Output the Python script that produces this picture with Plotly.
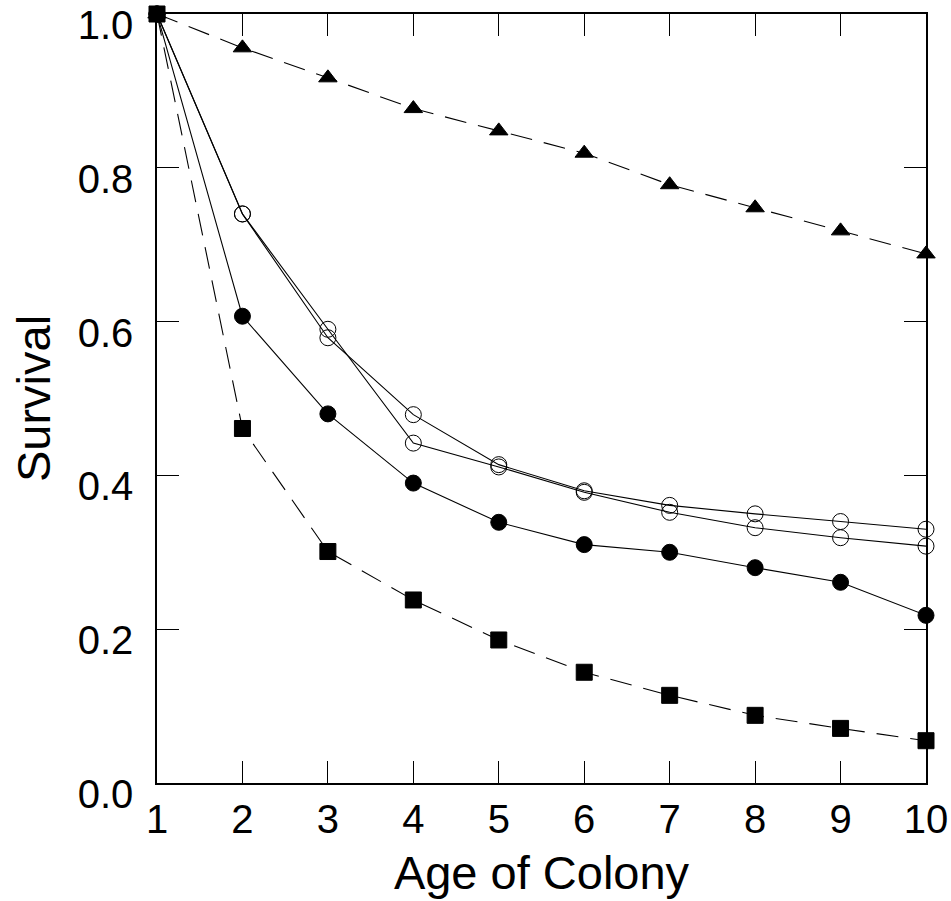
import plotly.graph_objects as go

age = list(range(1, 11))
tick_vals_x = list(range(1, 11))
tick_vals_y = [0.0, 0.2, 0.4, 0.6, 0.8, 1.0]
tick_text_y = ["0.0", "0.2", "0.4", "0.6", "0.8", "1.0"]

triangles = [1.0, 0.956, 0.917, 0.877, 0.848, 0.819, 0.778, 0.748, 0.718, 0.688]
open_a = [1.0, 0.740, 0.590, 0.442, 0.411, 0.378, 0.352, 0.332, 0.319, 0.308]
open_b = [1.0, 0.740, 0.579, 0.479, 0.414, 0.380, 0.361, 0.350, 0.340, 0.330]
filled = [1.0, 0.607, 0.480, 0.390, 0.339, 0.310, 0.300, 0.280, 0.261, 0.218]
squares = [1.0, 0.461, 0.301, 0.238, 0.186, 0.144, 0.114, 0.088, 0.071, 0.055]

fig = go.Figure()

def add(y, symbol, dash, size, lw=1.1):
    fig.add_trace(go.Scatter(
        x=age, y=y, mode="lines+markers", cliponaxis=False,
        line=dict(color="black", width=lw, dash=dash),
        marker=dict(symbol=symbol, size=size, color="black",
                    line=dict(color="black", width=1)),
        showlegend=False,
    ))

add(triangles, "triangle-up", "22px,12px", 16)
add(open_a, "circle-open", "solid", 16)
add(open_b, "circle-open", "solid", 16)
add(filled, "circle", "solid", 16)
add(squares, "square", "22px,12px", 16)

font = "Liberation Sans, Arial, Helvetica, sans-serif"

fig.update_layout(
    width=951, height=901,
    margin=dict(l=157, r=25, t=14, b=118),
    paper_bgcolor="white", plot_bgcolor="white",
    font=dict(family=font, color="black"),
)
fig.update_xaxes(
    range=[1, 10], tickvals=tick_vals_x, ticks="inside", ticklen=22, tickwidth=1,
    tickcolor="black", showline=True, linecolor="black", linewidth=1.5,
    mirror="allticks", showgrid=False, zeroline=False, automargin=False,
    tickfont=dict(size=40), ticklabelstandoff=0, ticklabeloverflow="allow",
    title=dict(text="Age of Colony", font=dict(size=47), standoff=16),
)
fig.update_yaxes(
    range=[0, 1], tickvals=tick_vals_y, ticktext=tick_text_y, ticks="inside",
    ticklen=22, tickwidth=1, tickcolor="black", showline=True, linecolor="black",
    linewidth=1.5, mirror="allticks", showgrid=False, zeroline=False, automargin=False,
    tickfont=dict(size=40), ticklabelstandoff=14, ticklabelshift=11,
    ticklabeloverflow="allow",
    title=dict(text="Survival", font=dict(size=47), standoff=12),
)

fig.write_html("out.html")
